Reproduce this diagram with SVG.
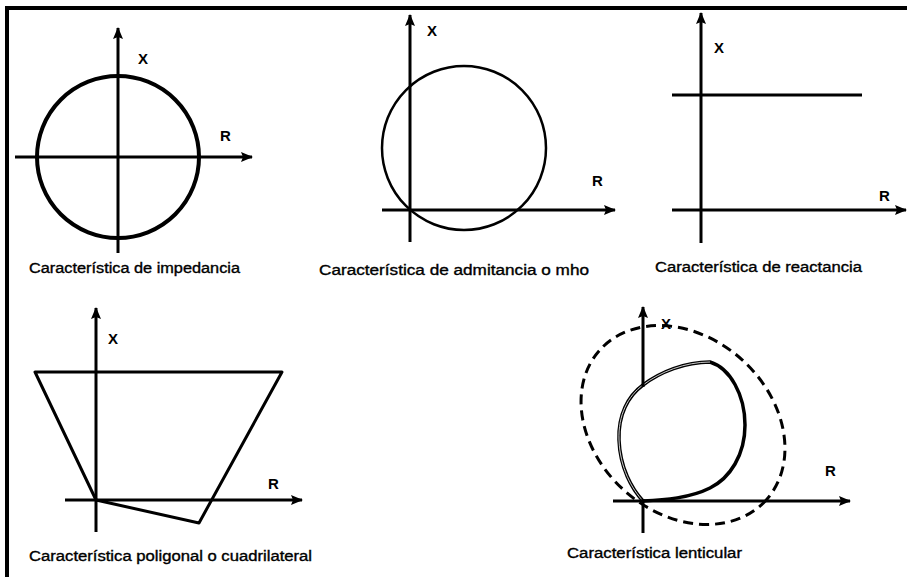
<svg xmlns="http://www.w3.org/2000/svg" width="907" height="577" viewBox="0 0 907 577">
<defs>
<marker id="arr" viewBox="0 0 12 10" refX="11" refY="5" markerWidth="12" markerHeight="10" markerUnits="userSpaceOnUse" orient="auto">
<path d="M0,0 L12,5 L0,10 L2,5 Z" fill="#000"/>
</marker>
<style>
.ax{stroke:#000;stroke-width:3;fill:none}
.axa{stroke:#000;stroke-width:3;fill:none;marker-end:url(#arr)}
.lbl{font-family:"Liberation Sans",Arial,sans-serif;font-size:14px;fill:#000;stroke:#000;stroke-width:0.35}
.ax-l{font-family:"Liberation Sans",Arial,sans-serif;font-size:15px;font-weight:bold;fill:#000}
.curve{stroke:#000;fill:none}
</style>
</defs>
<rect width="907" height="577" fill="#fff"/>
<g id="frame">
<line x1="5" y1="8" x2="907" y2="8" stroke="#000" stroke-width="4"/>
<line x1="7" y1="6" x2="7" y2="577" stroke="#000" stroke-width="4"/>
</g>
<g id="impedancia">
<circle class="curve" cx="118" cy="157" r="81" stroke-width="4"/>
<text class="ax-l" x="138" y="64">X</text>
<text class="ax-l" x="220" y="141">R</text>
<text class="lbl" x="29" y="273" textLength="211" lengthAdjust="spacingAndGlyphs">Característica de impedancia</text>
</g>
<g id="admitancia">
<circle class="curve" cx="464" cy="148" r="82" stroke-width="2.5"/>
<text class="ax-l" x="427" y="36">X</text>
<text class="ax-l" x="592" y="186">R</text>
<text class="lbl" x="319" y="275" textLength="270" lengthAdjust="spacingAndGlyphs">Característica de admitancia o mho</text>
</g>
<g id="reactancia">
<line class="ax" x1="672" y1="95" x2="862" y2="95"/>
<text class="ax-l" x="714" y="53">X</text>
<text class="ax-l" x="879" y="201">R</text>
<text class="lbl" x="655" y="272" textLength="207" lengthAdjust="spacingAndGlyphs">Característica de reactancia</text>
</g>
<g id="poligonal">
<path class="curve" stroke-width="3" stroke-linejoin="round" d="M35,372 L282,372 L199,523 L96,500 Z"/>
<text class="ax-l" x="108" y="344">X</text>
<text class="ax-l" x="268" y="489">R</text>
<text class="lbl" x="29" y="561" textLength="283" lengthAdjust="spacingAndGlyphs">Característica poligonal o cuadrilateral</text>
</g>
<g id="lenticular">
<ellipse class="curve" cx="683" cy="425" rx="112" ry="88" transform="rotate(42 683 425)" stroke-width="3" stroke-dasharray="10 6"/>
<path class="curve" stroke-width="3.5" stroke-linejoin="round" d="M643,501 C632,489 620,468 619,440 C618,415 628,396 643,385 C660,372 685,362 710,362 C730,368 745,395 745,425 C745,455 730,478 710,488 C690,498 665,500 643,501 Z"/>
<path stroke="#fff" stroke-width="0.8" fill="none" d="M643,501 C632,489 620,468 619,440 C618,415 628,396 643,385 C660,372 685,362 710,362"/>
<text class="ax-l" x="661" y="329">X</text>
<text class="ax-l" x="825" y="476">R</text>
<text class="lbl" x="567" y="558" textLength="175" lengthAdjust="spacingAndGlyphs">Característica lenticular</text>
</g>
<g id="connectors">
<line class="axa" x1="118" y1="253" x2="118" y2="28"/>
<line class="axa" x1="15" y1="157" x2="252" y2="157"/>
<line class="axa" x1="410" y1="242" x2="410" y2="15"/>
<line class="axa" x1="382" y1="210" x2="615" y2="210"/>
<line class="axa" x1="701" y1="243" x2="701" y2="13"/>
<line class="axa" x1="672" y1="210" x2="906" y2="210"/>
<line class="axa" x1="96" y1="532" x2="96" y2="308"/>
<line class="axa" x1="65" y1="500" x2="302" y2="500"/>
<line class="axa" x1="643" y1="387" x2="643" y2="307"/>
<line class="ax" x1="643" y1="499" x2="643" y2="533"/>
<line class="axa" x1="613" y1="501" x2="850" y2="501"/>
</g>
</svg>
